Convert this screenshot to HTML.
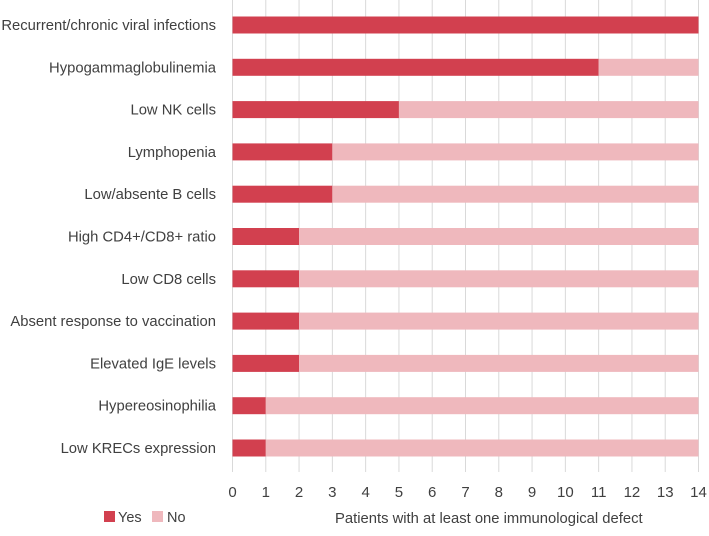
<!DOCTYPE html>
<html><head><meta charset="utf-8"><style>
body{margin:0;background:#fff;font-family:"Liberation Sans",sans-serif;}
svg text{font-family:"Liberation Sans",sans-serif;fill:#404040;}
</style></head><body>
<svg id="chart" width="709" height="531" xmlns="http://www.w3.org/2000/svg">
<g id="grid"></g>
<g id="bars"></g>
<g id="ylabels"></g>
<g id="xticks"></g>
<g>
<rect x="104" y="511" width="11" height="11" fill="#d2404f"/>
<text x="118" y="522" font-size="14.5">Yes</text>
<rect x="152" y="511" width="11" height="11" fill="#efb8bd"/>
<text x="167" y="522" font-size="14.5">No</text>
</g>
<text x="335" y="523" font-size="14.8">Patients with at least one immunological defect</text>
</svg>
<script>
const categories=["Recurrent/chronic viral infections","Hypogammaglobulinemia","Low NK cells","Lymphopenia","Low/absente B cells","High CD4+/CD8+ ratio","Low CD8 cells","Absent response to vaccination","Elevated IgE levels","Hypereosinophilia","Low KRECs expression"];
const yesValues=[14,11,5,3,3,2,2,2,2,1,1];
const noValues=[0,3,9,11,11,12,12,12,12,13,13];
const xTicks=[0,1,2,3,4,5,6,7,8,9,10,11,12,13,14];
const NS="http://www.w3.org/2000/svg";
const x=v=>232.5+v*(698.5-232.5)/14;
const y=i=>25+i*42.3;
const grid=document.getElementById('grid'),bars=document.getElementById('bars'),yl=document.getElementById('ylabels'),xt=document.getElementById('xticks');
xTicks.forEach(t=>{
 const l=document.createElementNS(NS,'line');
 
 
 l.setAttribute('x1',x(t));l.setAttribute('x2',x(t));l.setAttribute('y1',0);l.setAttribute('y2',472);
 l.setAttribute('stroke','#d9d9d9');l.setAttribute('stroke-width','1');grid.appendChild(l);
 const tx=document.createElementNS(NS,'text');
 
 
 tx.setAttribute('x',x(t));tx.setAttribute('y',497);tx.setAttribute('text-anchor','middle');tx.setAttribute('font-size','15');
 tx.textContent=t;xt.appendChild(tx);
});
categories.forEach((c,i)=>{
 const r1=document.createElementNS(NS,'rect');
 
 
 r1.setAttribute('x',x(0));r1.setAttribute('width',x(yesValues[i])-x(0));r1.setAttribute('y',y(i)-8.5);r1.setAttribute('height',17);r1.setAttribute('fill','#d2404f');
 bars.appendChild(r1);
 const r2=document.createElementNS(NS,'rect');
 
 
 r2.setAttribute('x',x(yesValues[i]));r2.setAttribute('width',x(yesValues[i]+noValues[i])-x(yesValues[i]));r2.setAttribute('y',y(i)-8.5);r2.setAttribute('height',17);r2.setAttribute('fill','#efb8bd');
 bars.appendChild(r2);
 const t=document.createElementNS(NS,'text');
 
 
 t.setAttribute('x',216);t.setAttribute('y',y(i)+5);t.setAttribute('text-anchor','end');t.setAttribute('font-size','14.8');
 t.textContent=c;yl.appendChild(t);
});
</script>
</body></html>
